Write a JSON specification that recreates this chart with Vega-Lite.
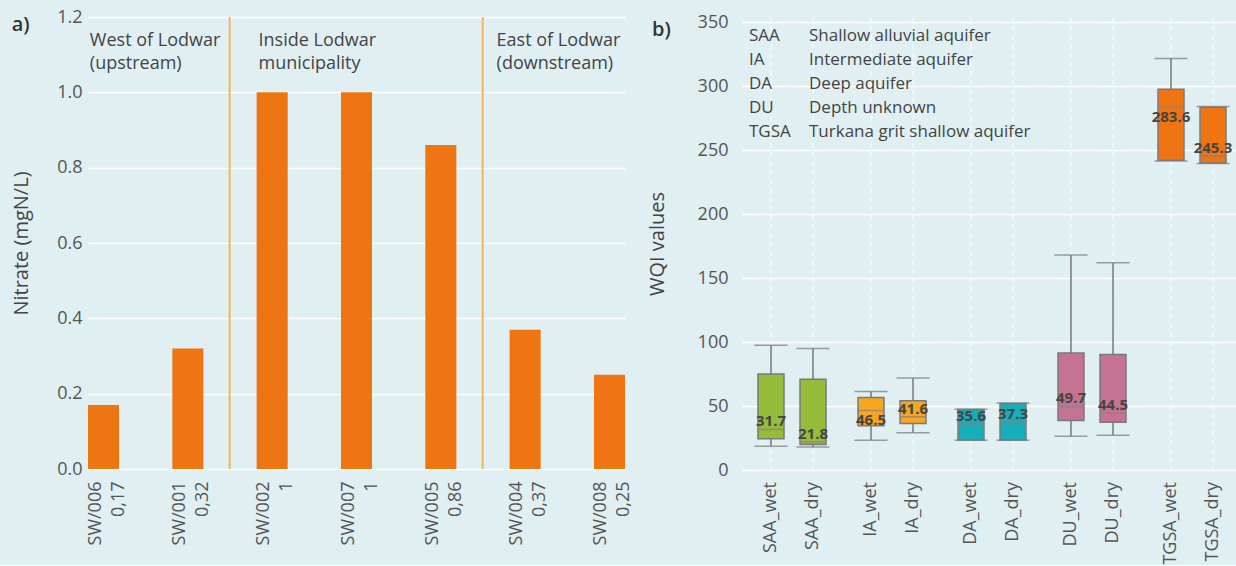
{
  "$schema": "https://vega.github.io/schema/vega-lite/v6.json",
  "background": "#E0EFF2",
  "padding": {"left": 11, "top": 8, "right": 0, "bottom": 0},
  "spacing": 14,
  "config": {
    "font": "Open Sans",
    "view": {"stroke": null},
    "axis": {
      "labelFontSize": 18,
      "labelColor": "#555555",
      "titleFontSize": 20,
      "titleFontWeight": "normal",
      "titleColor": "#444444",
      "ticks": false,
      "tickSize": 0,
      "domain": false,
      "gridColor": "#FFFFFF",
      "gridWidth": 1.5
    },
    "title": {"anchor": "start", "frame": "bounds", "fontSize": 20, "fontWeight": 600, "color": "#333333", "offset": -27}
  },
  "hconcat": [
    {
      "width": 537,
      "height": 452,
      "title": {"text": "a)"},
      "data": {"values": [
        {"label": "SW/006 0,17", "nitrate": 0.17},
        {"label": "SW/001 0,32", "nitrate": 0.32},
        {"label": "SW/002 1", "nitrate": 1.0},
        {"label": "SW/007 1", "nitrate": 1.0},
        {"label": "SW/005 0,86", "nitrate": 0.86},
        {"label": "SW/004 0,37", "nitrate": 0.37},
        {"label": "SW/008 0,25", "nitrate": 0.25}
      ]},
      "layer": [
        {
          "mark": {"type": "bar", "color": "#EE7511"},
          "encoding": {
            "x": {
              "field": "label", "type": "nominal", "sort": null,
              "scale": {"domain": ["SW/006 0,17", "SW/001 0,32", "SW/002 1", "SW/007 1", "SW/005 0,86", "SW/004 0,37", "SW/008 0,25"], "paddingInner": 0.632, "paddingOuter": 0},
              "axis": {"title": null, "labelAngle": -90, "labelExpr": "split(datum.value, ' ')", "labelLineHeight": 23, "labelOffset": -8, "labelPadding": 12, "grid": false}
            },
            "y": {
              "field": "nitrate", "type": "quantitative",
              "scale": {"domain": [0, 1.2], "nice": false},
              "axis": {"title": "Nitrate (mgN/L)", "values": [0, 0.2, 0.4, 0.6, 0.8, 1.0, 1.2], "format": ".1f", "labelPadding": 6, "titlePadding": 25}
            }
          }
        },
        {
          "data": {"values": [{"boundary": "SW/002 1"}, {"boundary": "SW/004 0,37"}]},
          "mark": {"type": "rule", "color": "#F4B55A", "strokeWidth": 2},
          "encoding": {
            "x": {"field": "boundary", "type": "nominal", "bandPosition": -0.87}
          }
        },
        {
          "data": {"values": [
            {"region": "West of Lodwar\n(upstream)", "first": "SW/006 0,17"},
            {"region": "Inside Lodwar\nmunicipality", "first": "SW/002 1"}
          ]},
          "mark": {"type": "text", "align": "left", "baseline": "alphabetic", "lineBreak": "\n", "lineHeight": 23, "fontSize": 18, "color": "#444444", "dy": 29},
          "encoding": {
            "x": {"field": "first", "type": "nominal", "bandPosition": 0.06},
            "y": {"datum": 1.2, "type": "quantitative"},
            "text": {"field": "region", "type": "nominal"}
          }
        },
        {
          "data": {"values": [
            {"region": "East of Lodwar\n(downstream)", "first": "SW/004 0,37"}
          ]},
          "mark": {"type": "text", "align": "left", "baseline": "alphabetic", "lineBreak": "\n", "lineHeight": 23, "fontSize": 18, "color": "#444444", "dy": 29},
          "encoding": {
            "x": {"field": "first", "type": "nominal", "bandPosition": -0.42},
            "y": {"datum": 1.2, "type": "quantitative"},
            "text": {"field": "region", "type": "nominal"}
          }
        }
      ]
    },
    {
      "width": 500,
      "height": 453,
      "title": {"text": "b)", "dx": 5},
      "layer": [
        {
          "data": {"values": [
            {"cat": "SAA_wet", "group": "SAA", "season": "wet", "lower": 18.5, "q1": 24.5, "median": 31.7, "q3": 75.0, "upper": 97.5},
            {"cat": "SAA_dry", "group": "SAA", "season": "dry", "lower": 18.0, "q1": 20.0, "median": 21.8, "q3": 71.0, "upper": 95.0},
            {"cat": "IA_wet", "group": "IA", "season": "wet", "lower": 23.3, "q1": 34.5, "median": 46.5, "q3": 56.7, "upper": 61.3},
            {"cat": "IA_dry", "group": "IA", "season": "dry", "lower": 29.2, "q1": 36.4, "median": 41.6, "q3": 54.1, "upper": 71.8},
            {"cat": "DA_wet", "group": "DA", "season": "wet", "lower": 23.3, "q1": 23.5, "median": 35.6, "q3": 47.2, "upper": 47.4},
            {"cat": "DA_dry", "group": "DA", "season": "dry", "lower": 23.3, "q1": 23.5, "median": 37.3, "q3": 52.0, "upper": 52.3},
            {"cat": "DU_wet", "group": "DU", "season": "wet", "lower": 26.4, "q1": 38.7, "median": 49.7, "q3": 91.5, "upper": 168.0},
            {"cat": "DU_dry", "group": "DU", "season": "dry", "lower": 27.2, "q1": 37.4, "median": 44.5, "q3": 90.3, "upper": 162.0},
            {"cat": "TGSA_wet", "group": "TGSA", "season": "wet", "lower": 241.5, "q1": 242.0, "median": 283.6, "q3": 297.5, "upper": 321.5},
            {"cat": "TGSA_dry", "group": "TGSA", "season": "dry", "lower": 239.5, "q1": 240.0, "median": 245.3, "q3": 283.5, "upper": 284.0}
          ]},
          "encoding": {
            "x": {
              "field": "group", "type": "nominal", "sort": null,
              "scale": {"domain": ["SAA", "IA", "DA", "DU", "TGSA"], "paddingInner": 0, "paddingOuter": 0},
              "axis": null
            },
            "xOffset": {
              "field": "season", "type": "nominal", "sort": null,
              "scale": {"domain": ["wet", "dry"], "paddingInner": 0, "paddingOuter": 0.19}
            }
          },
          "layer": [
            {
              "mark": {"type": "rule", "color": "#FFFFFF", "strokeWidth": 1, "strokeDash": [5, 4]},
              "encoding": {}
            },
            {
              "mark": {"type": "rule", "color": "#777777", "strokeWidth": 1.5},
              "encoding": {
                "y": {"field": "lower", "type": "quantitative", "title": "WQI values", "scale": {"domain": [0, 354], "nice": false},
                  "axis": {"values": [0, 50, 100, 150, 200, 250, 300, 350], "labelPadding": 14, "titlePadding": 30}},
                "y2": {"field": "upper"}
              }
            },
            {
              "mark": {"type": "bar", "size": 26, "stroke": "#7A7A7A", "strokeWidth": 1.5},
              "encoding": {
                "y": {"field": "q1", "type": "quantitative", "title": "WQI values"},
                "y2": {"field": "q3"},
                "color": {"field": "group", "type": "nominal", "legend": null,
                  "scale": {"domain": ["SAA", "IA", "DA", "DU", "TGSA"], "range": ["#95BD3B", "#F5A623", "#17AEBB", "#C47393", "#EE7511"]}}
              }
            },
            {
              "mark": {"type": "tick", "size": 26, "thickness": 1.5, "color": "#8A7F7F"},
              "encoding": {
                "y": {"field": "median", "type": "quantitative", "title": "WQI values"}
              }
            },
            {
              "mark": {"type": "tick", "size": 33, "thickness": 1.5, "color": "#777777"},
              "encoding": {
                "y": {"field": "lower", "type": "quantitative", "title": "WQI values"}
              }
            },
            {
              "mark": {"type": "tick", "size": 33, "thickness": 1.5, "color": "#777777"},
              "encoding": {
                "y": {"field": "upper", "type": "quantitative", "title": "WQI values"}
              }
            },
            {
              "transform": [{"filter": "datum.cat != 'IA_wet' && datum.cat != 'TGSA_wet'"}],
              "mark": {"type": "text", "baseline": "alphabetic", "dy": -3, "fontSize": 15, "fontWeight": "bold", "color": "#454545"},
              "encoding": {
                "y": {"field": "median", "type": "quantitative", "title": "WQI values"},
                "text": {"field": "median", "type": "quantitative", "format": ".1f"}
              }
            },
            {
              "transform": [{"filter": "datum.cat == 'IA_wet' || datum.cat == 'TGSA_wet'"}],
              "mark": {"type": "text", "baseline": "top", "dy": 3, "fontSize": 15, "fontWeight": "bold", "color": "#454545"},
              "encoding": {
                "y": {"field": "median", "type": "quantitative", "title": "WQI values"},
                "text": {"field": "median", "type": "quantitative", "format": ".1f"}
              }
            },
            {
              "mark": {"type": "text", "angle": 270, "align": "right", "baseline": "middle", "dx": -12, "fontSize": 18, "color": "#555555"},
              "encoding": {
                "y": {"datum": 0, "type": "quantitative"},
                "text": {"field": "cat", "type": "nominal"}
              }
            }
          ]
        },
        {
          "data": {"values": [
            {"abbr": "SAA", "desc": "Shallow alluvial aquifer"},
            {"abbr": "IA", "desc": "Intermediate aquifer"},
            {"abbr": "DA", "desc": "Deep aquifer"},
            {"abbr": "DU", "desc": "Depth unknown"},
            {"abbr": "TGSA", "desc": "Turkana grit shallow aquifer"}
          ]},
          "transform": [
            {"aggregate": [{"op": "values", "as": "rows"}]},
            {"calculate": "pluck(datum.rows, 'abbr')", "as": "abbrs"},
            {"calculate": "pluck(datum.rows, 'desc')", "as": "descs"}
          ],
          "encoding": {
            "x": {"datum": "SAA", "type": "nominal", "bandPosition": 0},
            "y": {"datum": 350, "type": "quantitative"}
          },
          "layer": [
            {
              "mark": {"type": "text", "align": "left", "baseline": "alphabetic", "dx": 7, "dy": 19, "lineHeight": 24, "fontSize": 17, "color": "#444444"},
              "encoding": {"text": {"field": "abbrs", "type": "nominal"}}
            },
            {
              "mark": {"type": "text", "align": "left", "baseline": "alphabetic", "dx": 67, "dy": 19, "lineHeight": 24, "fontSize": 17, "color": "#444444"},
              "encoding": {"text": {"field": "descs", "type": "nominal"}}
            }
          ]
        }
      ]
    }
  ]
}
